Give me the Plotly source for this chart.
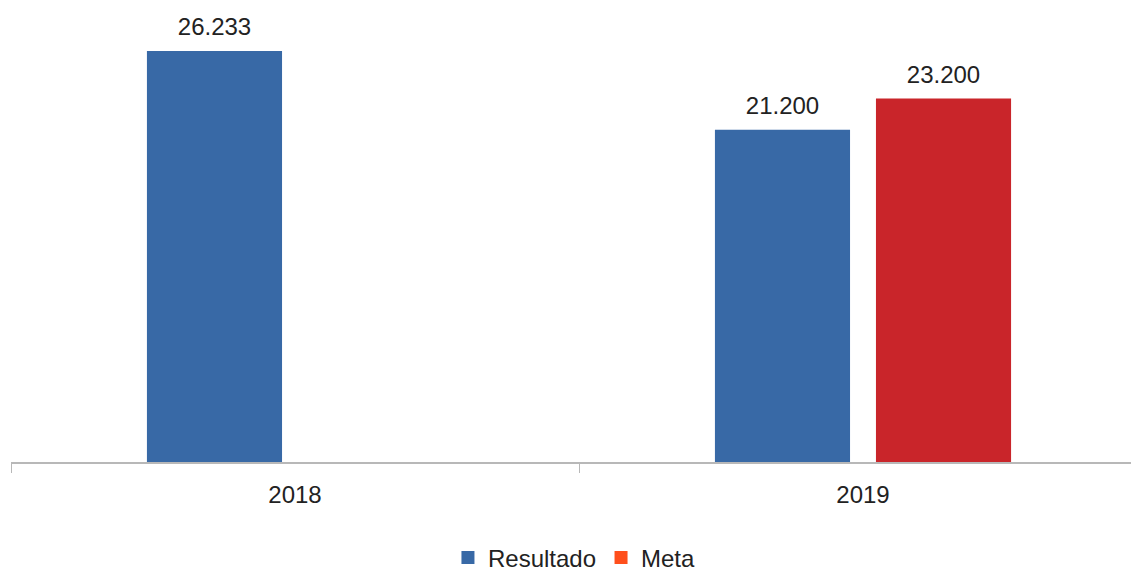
import plotly.graph_objects as go

anos = ["2018", "2019"]
resultado = [26233, 21200]
meta = [None, 23200]

AZUL = "#3869a6"
VERMELHO = "#c9252a"
LARANJA = "#ff4f1c"

series = [("Resultado", resultado, AZUL, AZUL), ("Meta", meta, VERMELHO, LARANJA)]

fig = go.Figure()
for nome, valores, cor, cor_legenda in series:
    fig.add_trace(go.Bar(x=anos, y=valores, name=nome, marker_color=cor, marker_line_width=0,
                         offsetgroup=nome, showlegend=False))
    # rótulos de valor, um pouco acima das barras
    fig.add_trace(go.Scatter(x=anos, y=valores, mode="markers+text", offsetgroup=nome,
                             texttemplate="%{y:,.0f}", textposition="top center",
                             textfont=dict(size=24, color="#222222"),
                             marker=dict(size=14, opacity=0), showlegend=False,
                             hoverinfo="skip", cliponaxis=False))
    # legenda (a cor do marcador da Meta é mais alaranjada que a barra)
    fig.add_trace(go.Scatter(x=[None], y=[None], mode="markers", name=nome, offsetgroup=nome,
                             marker=dict(symbol="square", size=13, color=cor_legenda)))

fig.update_layout(
    width=1139, height=571,
    margin=dict(l=3, r=0, t=12, b=117),
    plot_bgcolor="white", paper_bgcolor="white",
    font=dict(family="Liberation Sans, Arial, sans-serif", size=24, color="#222222"),
    separators=",.",
    barmode="group", bargap=0.433, bargroupgap=0.161,
    scattermode="group", scattergap=0.433,
    legend=dict(orientation="h", x=0.496, xanchor="center", y=0.0368, yanchor="middle",
                yref="container", font=dict(size=24), itemwidth=30, traceorder="normal"),
    xaxis=dict(type="category", showline=True, linecolor="#b8b8b8", linewidth=1.5,
               ticks="outside", tickson="boundaries", ticklen=9, tickcolor="#b8b8b8",
               showgrid=False, tickfont=dict(size=24), ticklabelstandoff=10,
               automargin=False),
    yaxis=dict(range=[0, 28210], visible=False, showgrid=False, automargin=False),
)
fig.write_html("out.html")
